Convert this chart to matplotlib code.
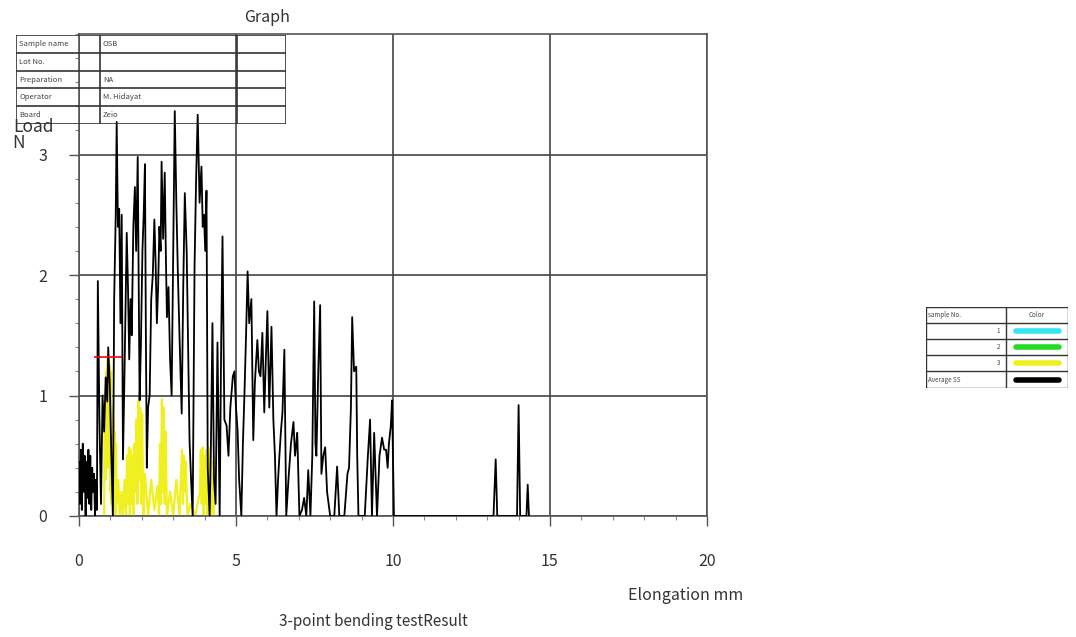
import matplotlib
matplotlib.use("Agg")
import matplotlib.pyplot as plt
from matplotlib.ticker import MultipleLocator

plt.rcParams['font.family'] = ['Noto Sans CJK JP', 'DejaVu Sans']

# 平均曲線 (Average SS)
avg_x = [0.0, 0.03, 0.06, 0.09, 0.12, 0.15, 0.18, 0.21, 0.24, 0.27, 0.30, 0.33, 0.36, 0.39,
         0.42, 0.45, 0.48, 0.51, 0.54, 0.57,
         0.6, 0.65, 0.7, 0.75, 0.8, 0.85, 0.9, 0.93, 0.98, 1.03, 1.08, 1.12, 1.17, 1.2, 1.24,
         1.28, 1.32, 1.36, 1.4, 1.45, 1.52, 1.56, 1.6, 1.64, 1.68, 1.73, 1.78, 1.82, 1.87,
         1.9, 1.93, 1.97, 2.02, 2.06, 2.1, 2.13, 2.16, 2.2, 2.25, 2.3, 2.35, 2.4, 2.44, 2.48,
         2.52, 2.56, 2.6, 2.63, 2.68, 2.73, 2.77, 2.8, 2.85, 2.9, 2.95, 3.0, 3.05, 3.1, 3.15,
         3.2, 3.27, 3.32, 3.37, 3.43, 3.48, 3.52, 3.57, 3.62, 3.68, 3.73, 3.78, 3.84, 3.9,
         3.94, 3.98, 4.02, 4.06, 4.1, 4.16, 4.2, 4.25, 4.3, 4.35, 4.41, 4.48, 4.53, 4.57,
         4.63, 4.7, 4.76, 4.82, 4.9, 4.95, 5.0, 5.05, 5.1, 5.17, 5.22, 5.27, 5.32, 5.37, 5.42,
         5.49, 5.55, 5.6, 5.68, 5.73, 5.78, 5.84, 5.9, 5.95, 6.0, 6.06, 6.13, 6.19, 6.24, 6.29,
         6.34, 6.38, 6.43, 6.48, 6.54, 6.6, 6.67, 6.75, 6.83, 6.88, 6.92, 6.95, 7.02, 7.1,
         7.17, 7.24, 7.3, 7.37, 7.43, 7.49, 7.53, 7.56, 7.62, 7.68, 7.72, 7.78, 7.84, 7.9,
         8.0, 8.13, 8.22, 8.29, 8.45, 8.55, 8.6, 8.66, 8.7, 8.76, 8.83, 8.86, 8.9, 9.0, 9.1,
         9.2, 9.27, 9.33, 9.4, 9.45, 9.49, 9.57, 9.65, 9.72, 9.78, 9.83, 9.87, 9.93, 9.97,
         10.03, 13.2, 13.27, 13.32, 13.95, 14.0, 14.05, 14.25, 14.29, 14.33]
avg_y = [0.45, 0.1, 0.55, 0.05, 0.6, 0.2, 0.5, 0.0, 0.45, 0.15, 0.55, 0.1, 0.5, 0.05,
         0.4, 0.2, 0.35, 0.0, 0.3, 0.05,
         1.95, 0.8, 0.1, 1.0, 0.7, 1.15, 0.95, 1.4, 1.1, 0.5, 0.0, 1.8, 2.5, 3.27, 2.4,
         2.55, 1.6, 2.5, 0.47, 1.2, 2.35, 1.9, 1.3, 1.8, 1.5, 2.4, 2.73, 2.2, 2.98,
         2.0, 0.96, 1.4, 2.2, 2.5, 2.92, 1.5, 0.4, 0.9, 1.0, 1.8, 2.0, 2.46, 2.1, 1.6,
         1.9, 2.4, 2.2, 2.94, 2.3, 2.85, 2.1, 1.65, 1.9, 1.3, 1.0, 2.2, 3.36, 2.6, 2.0,
         1.5, 0.85, 1.9, 2.68, 2.19, 1.3, 0.63, 0.3, 0.0, 2.07, 2.8, 3.33, 2.6, 2.9,
         2.4, 2.5, 2.2, 2.7, 0.4, 0.0, 0.57, 1.6, 0.3, 0.1, 1.44, 0.0, 1.5, 2.32,
         0.8, 0.75, 0.5, 0.9, 1.16, 1.2, 0.9, 0.71, 0.3, 0.0, 0.6, 1.02, 1.5, 2.03, 1.6,
         1.8, 0.63, 1.1, 1.46, 1.2, 1.16, 1.52, 0.86, 1.3, 1.7, 0.9, 1.57, 0.8, 0.5, 0.0,
         0.3, 0.49, 0.7, 0.86, 1.38, 0.0, 0.3, 0.6, 0.78, 0.5, 0.6, 0.69, 0.0, 0.05,
         0.15, 0.0, 0.38, 0.0, 0.5, 1.78, 0.6, 0.5, 1.2, 1.75, 0.35, 0.5, 0.57, 0.2,
         0.0, 0.0, 0.41, 0.0, 0.0, 0.35, 0.4, 0.9, 1.65, 1.2, 1.24, 0.5, 0.0, 0.0, 0.0,
         0.5, 0.8, 0.0, 0.69, 0.3, 0.0, 0.5, 0.65, 0.55, 0.55, 0.4, 0.6, 0.75, 0.96,
         0.0, 0.0, 0.47, 0.0, 0.0, 0.92, 0.0, 0.0, 0.26, 0.0]

# 試料3
s3_x = [0.8, 0.82, 0.84, 0.86, 0.88, 0.9, 0.92, 0.94, 0.96, 0.98, 1.0, 1.02, 1.04, 1.06,
        1.08, 1.1, 1.12, 1.14, 1.16, 1.18, 1.2, 1.25, 1.3, 1.35, 1.4, 1.45, 1.5, 1.53,
        1.56, 1.59, 1.62, 1.65, 1.68, 1.71, 1.74, 1.77, 1.8, 1.83, 1.86, 1.89, 1.92, 1.95,
        1.98, 2.01, 2.05, 2.1, 2.2, 2.3, 2.4, 2.5, 2.55, 2.58, 2.61, 2.64, 2.67, 2.7, 2.73,
        2.76, 2.8, 2.9, 3.0, 3.1, 3.2, 3.28, 3.31, 3.34, 3.37, 3.4, 3.45, 3.55, 3.7, 3.85,
        3.88, 3.91, 3.94, 3.97, 4.0, 4.03, 4.06, 4.09, 4.12, 4.15, 4.18, 4.21, 4.25, 4.3,
        4.35]
s3_y = [0.0, 0.9, 0.3, 1.2, 0.5, 1.3, 0.4, 1.28, 0.6, 1.25, 0.2, 1.2, 0.1, 0.9,
        0.0, 0.8, 0.1, 0.7, 0.0, 0.6, 0.1, 0.3, 0.0, 0.2, 0.0, 0.3, 0.0, 0.5,
        0.1, 0.57, 0.0, 0.55, 0.1, 0.5, 0.0, 0.6, 0.2, 0.8, 0.1, 0.96, 0.3, 0.9,
        0.1, 0.85, 0.0, 0.35, 0.0, 0.3, 0.05, 0.25, 0.0, 0.6, 0.1, 0.97, 0.2, 0.9,
        0.1, 0.7, 0.0, 0.2, 0.0, 0.3, 0.0, 0.55, 0.1, 0.5, 0.2, 0.45, 0.0, 0.1, 0.0, 0.2,
        0.55, 0.1, 0.57, 0.0, 0.5, 0.1, 0.55, 0.0, 0.57, 0.1, 0.5, 0.0, 0.45, 0.0,
        0.0]

# 破壊点
brk_x = [0.93]
brk_y = [1.32]

info_labels = ["Sample name", "Lot No.", "Preparation", "Operator", "Board"]
info_values = ["OSB", "", "NA", "M. Hidayat", "Zeio"]

legend_nos = ["1", "2", "3", "Average SS"]
legend_colors = ["#33e6f0", "#22dd22", "#f0f020", "black"]

fig = plt.figure(figsize=(10.76, 6.37), dpi=100)
ax = fig.add_axes([79 / 1076, 1 - 516 / 637, 628 / 1076, 482 / 637])

ax.plot(s3_x, s3_y, color="#f0f020", lw=1.6, zorder=2)
ax.plot(avg_x, avg_y, color="black", lw=1.3, zorder=3)
ax.plot(brk_x, brk_y, marker="_", color="red", ms=20, mew=1.2, ls="none", zorder=4)

ax.set_xlim(0, 20)
ax.set_ylim(0, 4)
ax.xaxis.set_major_locator(MultipleLocator(5))
ax.xaxis.set_minor_locator(MultipleLocator(1))
ax.yaxis.set_major_locator(MultipleLocator(1))
ax.yaxis.set_minor_locator(MultipleLocator(0.2))
ax.set_yticks([0, 1, 2, 3])
ax.grid(True, which="major", color="#444444", lw=1.2)
for s in ax.spines.values():
    s.set_color("#555555")
    s.set_linewidth(1.2)
ax.tick_params(which="major", length=7, width=1, color="#555555", labelsize=11.5,
               labelcolor="#333333")
ax.tick_params(axis="x", which="major", pad=20)
ax.tick_params(axis="y", which="major", pad=16)
ax.tick_params(which="minor", length=3, width=0.8, color="#888888")

# 文字
fig.text(267 / 1076, 1 - 18 / 637, "Graph", ha="center", va="center", fontsize=11.5, color="#333333")
fig.text(686 / 1076, 1 - 596 / 637, "Elongation mm", ha="center", va="center", fontsize=11.5, color="#333333")
fig.text(373 / 1076, 1 - 621 / 637, "3-point bending testResult", ha="center", va="center",
         fontsize=11, color="#333333")
fig.text(13 / 1076, 1 - 127 / 637, "Load", ha="left", va="center", fontsize=12.5, color="#333333")
fig.text(12 / 1076, 1 - 143 / 637, "N", ha="left", va="center", fontsize=12.5, color="#333333")

# 試料情報表
tab = fig.add_axes([16 / 1076, 1 - 124 / 637, 270 / 1076, 89 / 637])
tab.set_xlim(0, 270)
tab.set_ylim(89, 0)
tab.axis("off")
tab.patch.set_alpha(0)
rows_y = [0, 18, 36, 53, 71, 89]
for yy in rows_y:
    tab.plot([0, 270], [yy, yy], color="#333333", lw=1.2)
for xx in [0, 84, 221, 270]:
    tab.plot([xx, xx], [0, 89], color="#333333", lw=1.2)
for i, (lab, val) in enumerate(zip(info_labels, info_values)):
    yc = (rows_y[i] + rows_y[i + 1]) / 2
    tab.text(3, yc, lab, fontsize=5.5, va="center", color="#444444")
    tab.text(87, yc, val, fontsize=5.5, va="center", color="#444444")

# 凡例表
leg = fig.add_axes([926 / 1076, 1 - 388 / 637, 142 / 1076, 81 / 637])
leg.set_xlim(0, 142)
leg.set_ylim(81, 0)
leg.axis("off")
leg_rows = [0, 16, 32, 48, 64, 81]
for yy in leg_rows:
    leg.plot([0, 142], [yy, yy], color="#333333", lw=1.0)
for xx in [0, 80, 142]:
    leg.plot([xx, xx], [0, 81], color="#333333", lw=1.0)
leg.text(2, 8, "sample No.", fontsize=4.5, va="center", color="#444444")
leg.text(111, 8, "Color", fontsize=4.5, va="center", ha="center", color="#444444")
for i, (no, c) in enumerate(zip(legend_nos, legend_colors)):
    yc = (leg_rows[i + 1] + leg_rows[i + 2]) / 2
    if no == "Average SS":
        leg.text(2, yc, no, fontsize=4.5, va="center", color="#444444")
    else:
        leg.text(74, yc, no, fontsize=4.5, va="center", ha="right", color="#444444")
    leg.plot([90, 133], [yc, yc], color=c, lw=4, solid_capstyle="round")

fig.savefig("out.png", dpi=100)
